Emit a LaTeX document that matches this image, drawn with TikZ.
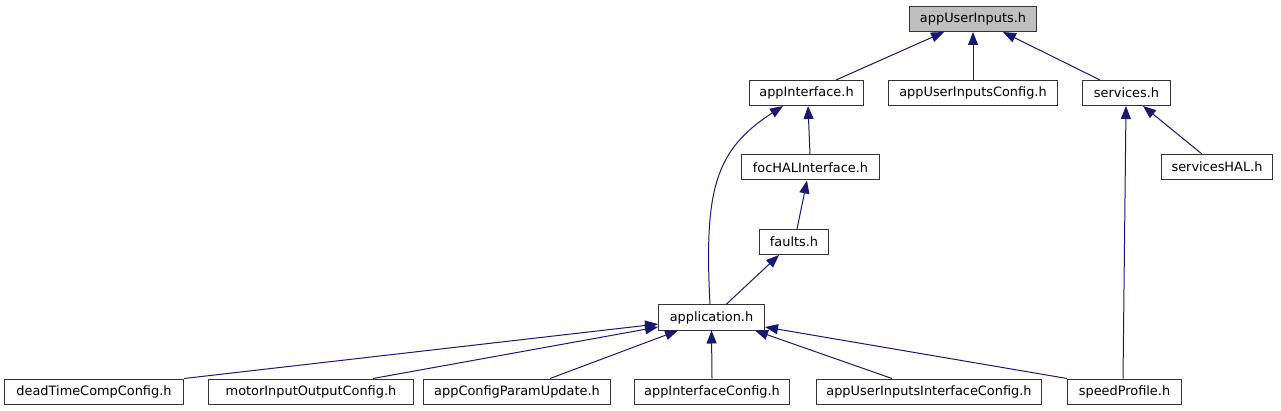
\documentclass[tikz,border=0pt]{standalone}
\usepackage{fontspec}
\setmainfont{DejaVu Sans}
\usetikzlibrary{arrows.meta}
\definecolor{edgeblue}{HTML}{191970}
\definecolor{rootgray}{HTML}{BFBFBF}
\definecolor{boxline}{HTML}{333333}
\tikzset{
  filebox/.style={draw=boxline, line width=1pt, fill=white, rectangle, inner sep=0pt,
    minimum height=25pt, font=\fontsize{12.9}{15}\selectfont, text=black},
  rootbox/.style={filebox, fill=rootgray},
  dep/.style={draw=edgeblue, line width=1pt, -{Triangle[length=13pt,width=10pt]}, color=edgeblue}
}
\begin{document}
\begin{tikzpicture}[x=1pt,y=-1pt]
\useasboundingbox[fill=white] (0,0) rectangle (1281,411);
% nodes
\node[rootbox, minimum width=127pt] (aui) at (973,19) {appUserInputs.h};
\node[filebox, minimum width=114pt] (ai) at (806.5,93) {appInterface.h};
\node[filebox, minimum width=169pt] (auic) at (973,93) {appUserInputsConfig.h};
\node[filebox, minimum width=88pt] (svc) at (1126.5,93) {services.h};
\node[filebox, minimum width=138pt] (foc) at (810.5,167.5) {focHALInterface.h};
\node[filebox, minimum width=111pt] (shal) at (1217,167) {servicesHAL.h};
\node[filebox, minimum width=69pt] (flt) at (794,242) {faults.h};
\node[filebox, minimum width=106pt] (app) at (711.5,317.5) {application.h};
\node[filebox, minimum width=179pt] (dtc) at (94,391.5) {deadTimeCompConfig.h};
\node[filebox, minimum width=205pt] (mio) at (311,391.5) {motorInputOutputConfig.h};
\node[filebox, minimum width=187pt] (acpu) at (517,391.5) {appConfigParamUpdate.h};
\node[filebox, minimum width=155pt] (aic) at (712,391.5) {appInterfaceConfig.h};
\node[filebox, minimum width=225pt] (auiic) at (929,391.5) {appUserInputsInterfaceConfig.h};
\node[filebox, minimum width=114pt] (sp) at (1124.5,391.5) {speedProfile.h};
% edges (child -> parent)
\draw[dep] ([shift={(29.5,0)}]ai.north) -- ([shift={(-29,0)}]aui.south);
\draw[dep] (auic.north) -- (aui.south);
\draw[dep] ([shift={(-26.5,0)}]svc.north) -- ([shift={(30,0)}]aui.south);
\draw[dep] ([shift={(-0.5,0)}]foc.north) -- ([shift={(1.5,0)}]ai.south);
\draw[dep] ([shift={(-1.5,0)}]app.north) .. controls +(-6,-115) and +(-68,44) .. ([shift={(-23.5,0)}]ai.south);
\draw[dep] ([shift={(3,0)}]flt.north) -- ([shift={(-3.5,0)}]foc.south);
\draw[dep] ([shift={(14.5,0)}]app.north) -- ([shift={(-15,0)}]flt.south);
\draw[dep] ([shift={(-1.5,0)}]sp.north) -- ([shift={(-0.5,0)}]svc.south);
\draw[dep] ([shift={(-15,0)}]shal.north) -- ([shift={(16.5,0)}]svc.south);
\draw[dep] (dtc.north east) -- ([shift={(0,6.5)}]app.west);
\draw[dep] ([shift={(62,0)}]mio.north) -- ([shift={(0,9.5)}]app.west);
\draw[dep] ([shift={(33,0)}]acpu.north) -- ([shift={(-33.5,0)}]app.south);
\draw[dep] (aic.north) -- (app.south);
\draw[dep] ([shift={(-37,0)}]auiic.north) -- ([shift={(43.5,0)}]app.south);
\draw[dep] (sp.north west) -- ([shift={(0,9.5)}]app.east);
\end{tikzpicture}
\end{document}
